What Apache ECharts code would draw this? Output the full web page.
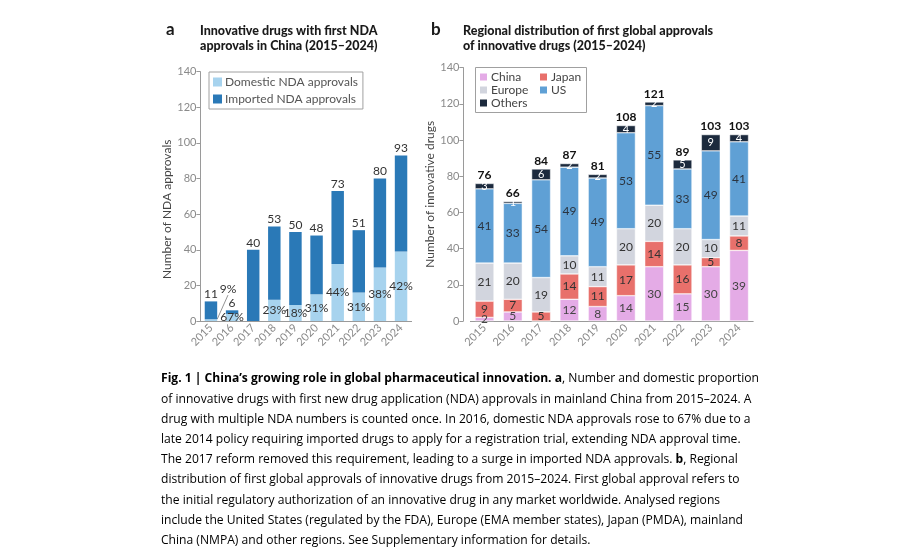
<!DOCTYPE html>
<html>
<head>
<meta charset="utf-8">
<script src="https://cdn.jsdelivr.net/npm/echarts@6/dist/echarts.min.js"></script>
<style>
html,body{margin:0;padding:0;background:#fff;}
#c{width:899px;height:552px;}
</style>
</head>
<body>
<div id="c"></div>
<script>
// ---------- data ----------
const years = ['2015','2016','2017','2018','2019','2020','2021','2022','2023','2024'];
// panel a
const ndaTotal    = [11, 6, 40, 53, 50, 48, 73, 51, 80, 93];
const ndaDomestic = [1, 4, 0, 12, 9, 15, 32, 16, 30, 39];
const ndaImported = [10, 2, 40, 41, 41, 33, 41, 35, 50, 54];
const domesticPct = [9, 67, 0, 23, 18, 31, 44, 31, 38, 42];
// panel b
const chinaFirst  = [2, 5, 0, 12, 8, 14, 30, 15, 30, 39];
const japanFirst  = [9, 7, 5, 14, 11, 17, 14, 16, 5, 8];
const europeFirst = [21, 20, 19, 10, 11, 20, 20, 20, 10, 11];
const usFirst     = [41, 33, 54, 49, 49, 53, 55, 33, 49, 41];
const othersFirst = [3, 1, 6, 2, 2, 4, 2, 5, 9, 4];
const globalTotal = [76, 66, 84, 87, 81, 108, 121, 89, 103, 103];
const yTicks = [0, 20, 40, 60, 80, 100, 120, 140];

const captionLines = [
  '{b|Fig. 1 | China\u2019s growing role in global pharmaceutical innovation. a}{n|, Number and domestic proportion}',
  '{n|of innovative drugs with first new drug application (NDA) approvals in mainland China from 2015\u20132024. A}',
  '{n|drug with multiple NDA numbers is counted once. In 2016, domestic NDA approvals rose to 67% due to a}',
  '{n|late 2014 policy requiring imported drugs to apply for a registration trial, extending NDA approval time.}',
  '{n|The 2017 reform removed this requirement, leading to a surge in imported NDA approvals. }{b|b}{n|, Regional}',
  '{n|distribution of first global approvals of innovative drugs from 2015\u20132024. First global approval refers to}',
  '{n|the initial regulatory authorization of an innovative drug in any market worldwide. Analysed regions}',
  '{n|include the United States (regulated by the FDA), Europe (EMA member states), Japan (PMDA), mainland}',
  '{n|China (NMPA) and other regions. See Supplementary information for details.}'
];

// ---------- styles ----------
const FONT = 'Lato';
const C = {
  domestic: '#a7d3ee', imported: '#2a79b7',
  china: '#e4abe6', japan: '#e8706b', europe: '#d2d5de', us: '#5fa0d5', others: '#1c2a3d'
};
const axisGray = '#9a9a9a';
const labelGray = '#8a8a8a';

function yAxisCfg(idx, name, extra) {
  return Object.assign({
    type: 'value', gridIndex: idx, min: yTicks[0], max: yTicks[yTicks.length-1], interval: yTicks[1]-yTicks[0],
    name: name, nameLocation: 'middle', nameRotate: 90,
    nameTextStyle: {fontFamily: FONT, fontSize: 12, color: '#444'},
    axisLine: {show: true, lineStyle: {color: axisGray, width: 1}},
    axisTick: {show: true, length: 4, lineStyle: {color: axisGray}},
    axisLabel: {fontFamily: FONT, fontSize: 11, color: labelGray, margin: 4},
    splitLine: {show: false}
  }, extra || {});
}
function xAxisCfg(idx) {
  return {
    type: 'category', gridIndex: idx, data: years,
    axisLine: {show: true, lineStyle: {color: axisGray, width: 1}},
    axisTick: {show: false},
    axisLabel: {fontFamily: FONT, fontSize: 11, color: labelGray, rotate: 45, margin: 5, interval: 0}
  };
}
function inLabel(arr, color, size) {
  return {
    show: true, position: 'inside', fontFamily: FONT, fontSize: size || 12, color: color,
    formatter: p => (arr[p.dataIndex] ? String(arr[p.dataIndex]) : '')
  };
}

const chart = echarts.init(document.getElementById('c'), null, {renderer: 'canvas'});

const graphics = [
  {type: 'text', left: 166, top: 21, style: {text: 'a', font: 'bold 17px ' + FONT, fill: '#1a1a1a'}},
  {type: 'text', left: 200, top: 24, style: {text: 'Innovative drugs with first NDA\napprovals in China (2015\u20132024)', font: '900 12.5px ' + FONT, fill: '#1a1a1a', lineHeight: 14.5}},
  {type: 'text', left: 431, top: 21, style: {text: 'b', font: 'bold 17px ' + FONT, fill: '#1a1a1a'}},
  {type: 'text', left: 463, top: 24, style: {text: 'Regional distribution of first global approvals\nof innovative drugs (2015\u20132024)', font: '900 12.5px ' + FONT, fill: '#1a1a1a', lineHeight: 14.5}},
  {type: 'rect', shape: {x: 475.5, y: 67.5, width: 111, height: 45}, style: {fill: 'none', stroke: '#a0a0a0', lineWidth: 1}, z: 1}
];
captionLines.forEach((ln, i) => {
  graphics.push({
    type: 'text', x: 161, y: 379 + i * 20.2,
    style: {
      text: ln, verticalAlign: 'middle', align: 'left',
      rich: {
        n: {fontFamily: 'Open Sans', fontSize: 12.1, color: '#3b3b3b'},
        b: {fontFamily: 'Open Sans', fontSize: 12.1, fontWeight: 'bold', color: '#3b3b3b'}
      }
    }
  });
});

const legendB = {
  orient: 'vertical', top: 70, padding: [1, 2, 1, 2], itemGap: 1,
  itemWidth: 9, itemHeight: 9, icon: 'rect',
  textStyle: {fontFamily: FONT, fontSize: 12, lineHeight: 12, color: '#444', padding: [0, 0, 0, -2]}
};

chart.setOption({
  animation: false,
  backgroundColor: '#fff',
  textStyle: {fontFamily: FONT},
  grid: [
    {left: 200.4, top: 71.7, width: 211.2, height: 249.3},
    {left: 470.4, top: 67.6, width: 282.8, height: 253.4}
  ],
  xAxis: [xAxisCfg(0), xAxisCfg(1)],
  yAxis: [
    yAxisCfg(0, 'Number of NDA approvals', {nameGap: 21, nameTextStyle: {fontFamily: FONT, fontSize: 12, color: '#444', padding: [0, 26, 0, 0]}}),
    yAxisCfg(1, 'Number of innovative drugs', {nameGap: 24, offset: 7})
  ],
  legend: [
    {
      data: ['Domestic NDA approvals', 'Imported NDA approvals'],
      orient: 'vertical', left: 209, top: 72, padding: [4, 5, 4, 4], itemGap: 5,
      itemWidth: 9, itemHeight: 9, icon: 'rect',
      borderColor: '#a0a0a0', borderWidth: 1,
      textStyle: {fontFamily: FONT, fontSize: 12, color: '#555', padding: [0, 0, 0, -2]}
    },
    Object.assign({data: ['China', 'Europe', 'Others'], left: 476}, legendB),
    Object.assign({data: ['Japan', 'US'], left: 536}, legendB)
  ],
  graphic: graphics,
  series: [
    {
      name: 'Domestic NDA approvals', type: 'bar', stack: 'a', xAxisIndex: 0, yAxisIndex: 0,
      barWidth: '59%', itemStyle: {color: C.domestic},
      data: ndaDomestic.map((v, i) => i === 0 ? {value: v, labelLine: {show: true, lineStyle: {color: '#777', width: 0.8}}} : v),
      label: {
        show: true, position: 'inside', fontFamily: FONT, fontSize: 12, color: '#333',
        formatter: p => (domesticPct[p.dataIndex] ? domesticPct[p.dataIndex] + '%' : '')
      },
      labelLayout: p => (p.dataIndex === 0 ? {dx: 17, dy: -31} : {})
    },
    {
      name: 'Imported NDA approvals', type: 'bar', stack: 'a', xAxisIndex: 0, yAxisIndex: 0,
      barWidth: '59%', itemStyle: {color: C.imported},
      data: ndaImported,
      label: {
        show: true, position: 'top', distance: 1, fontFamily: FONT, fontSize: 12, color: '#333',
        formatter: p => String(ndaTotal[p.dataIndex])
      }
    },
    {
      name: 'China', type: 'bar', stack: 'b', xAxisIndex: 1, yAxisIndex: 1, barWidth: '67%',
      itemStyle: {color: C.china, borderColor: '#fff', borderWidth: 0.5},
      data: chinaFirst, label: inLabel(chinaFirst, '#444')
    },
    {
      name: 'Japan', type: 'bar', stack: 'b', xAxisIndex: 1, yAxisIndex: 1, barWidth: '67%',
      itemStyle: {color: C.japan, borderColor: '#fff', borderWidth: 0.5},
      data: japanFirst, label: inLabel(japanFirst, '#333')
    },
    {
      name: 'Europe', type: 'bar', stack: 'b', xAxisIndex: 1, yAxisIndex: 1, barWidth: '67%',
      itemStyle: {color: C.europe, borderColor: '#fff', borderWidth: 0.5},
      data: europeFirst, label: inLabel(europeFirst, '#333')
    },
    {
      name: 'US', type: 'bar', stack: 'b', xAxisIndex: 1, yAxisIndex: 1, barWidth: '67%',
      itemStyle: {color: C.us, borderColor: '#fff', borderWidth: 0.5},
      data: usFirst, label: inLabel(usFirst, '#2b3440')
    },
    {
      name: 'Others', type: 'bar', stack: 'b', xAxisIndex: 1, yAxisIndex: 1, barWidth: '67%',
      itemStyle: {color: C.others, borderColor: '#fff', borderWidth: 0.5},
      data: othersFirst,
      label: inLabel(othersFirst, '#fff', 11)
    },
    {
      name: 'OthersTotal', type: 'bar', stack: 'b', xAxisIndex: 1, yAxisIndex: 1, barWidth: '67%',
      itemStyle: {color: 'rgba(0,0,0,0)'}, silent: true,
      data: globalTotal.map(() => 0),
      label: {
        show: true, position: 'top', distance: 2, fontFamily: FONT, fontSize: 12, fontWeight: 'bold', color: '#111',
        formatter: p => String(globalTotal[p.dataIndex])
      }
    }
  ]
});
</script>
</body>
</html>
